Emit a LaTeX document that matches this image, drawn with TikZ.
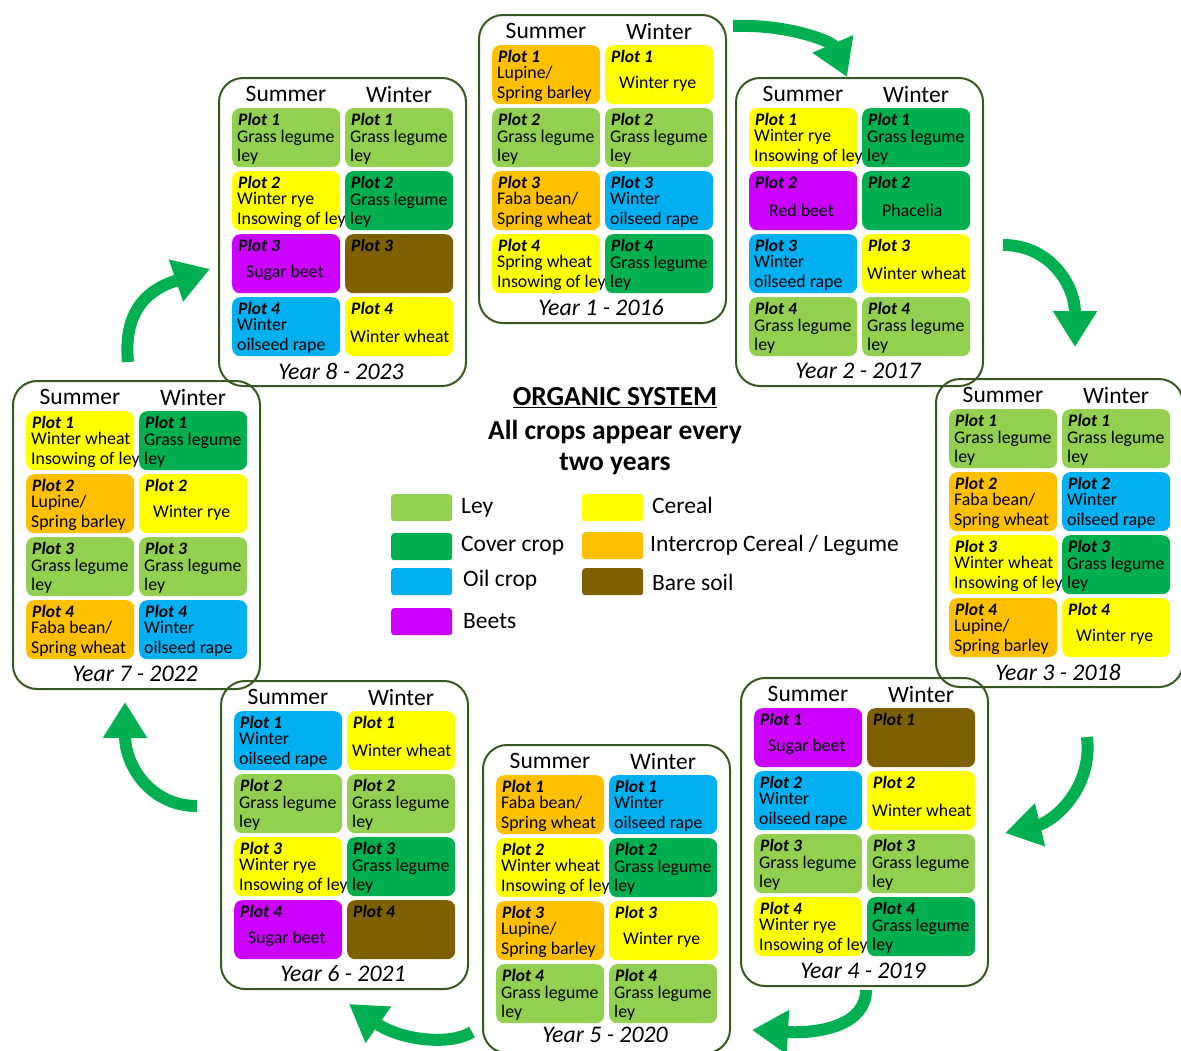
\documentclass[tikz,border=0pt]{standalone}
\usepackage{fontspec}
\setmainfont{Carlito}
\usetikzlibrary{arrows.meta}
\definecolor{cley}{HTML}{92D050}
\definecolor{ccover}{HTML}{00B050}
\definecolor{coil}{HTML}{00B0F0}
\definecolor{cbeet}{HTML}{CC00FF}
\definecolor{ccereal}{HTML}{FFFF00}
\definecolor{cinter}{HTML}{FFC000}
\definecolor{cbare}{HTML}{7F6000}
\definecolor{cframe}{HTML}{385723}
\definecolor{carrow}{HTML}{00B050}
\tikzset{
 panelbox/.style={draw=cframe, line width=2pt, rounded corners=24pt, anchor=north west, minimum width=247pt, minimum height=308pt, inner sep=0pt},
 cellbox/.style={rounded corners=8pt, inner sep=0pt, minimum width=108pt, minimum height=59pt, anchor=north west},
 plotlbl/.style={font=\fontsize{17.5}{19}\selectfont\bfseries\itshape, anchor=west, inner sep=0pt},
 bodytxt/.style={font=\fontsize{17.8}{19.5}\selectfont, align=left, anchor=west, inner sep=0pt},
 hdr/.style={font=\fontsize{23.5}{26}\selectfont, inner sep=0pt},
 yearlbl/.style={font=\fontsize{23.8}{26}\selectfont\itshape, inner sep=0pt},
 swatch/.style={rounded corners=3pt, minimum width=61pt, minimum height=27pt, anchor=north west, inner sep=0pt},
 legtxt/.style={font=\fontsize{23.5}{26}\selectfont, anchor=west, inner sep=0pt},
 titletxt/.style={font=\fontsize{27.5}{31}\selectfont\bfseries, inner sep=0pt},
 bigarrow/.style={draw=carrow, line width=12pt, -{Triangle[length=36pt,width=42pt]}},
}
\def\LY{294}
\newcommand\mkpanel[2]{%
 \node[panelbox] (#1) at (\PX,\PY) {};
 \node[hdr] (#1hs) at (\PX+68,\PY+17) {Summer};
 \node[hdr] (#1hw) at (\PX+181,\PY+17) {Winter};
 \node[yearlbl] (#1yr) at (\PX+123,\PY+\LY) {#2};
}
\newcommand\mkcell[6]{%
 \node[cellbox, fill=#4] (#1) at (\PX+#2,\PY+#3) {};
 \node[plotlbl] (#1l) at (\PX+#2+6,\PY+#3+11) {#5};
 \node[bodytxt] (#1t) at (\PX+#2+5,\PY+#3+39) {#6};
}
\newcommand\mkcellone[6]{%
 \node[cellbox, fill=#4] (#1) at (\PX+#2,\PY+#3) {};
 \node[plotlbl] (#1l) at (\PX+#2+6,\PY+#3+11) {#5};
 \node[bodytxt] (#1t) at (\PX+#2+14,\PY+#3+39) {#6};
}
\def\GL{Grass legume\\ley}
\def\WOR{Winter\\oilseed rape}
\def\SX{14}\def\WX{127}
\def\RA{31}\def\RB{94}\def\RC{157}\def\RD{220}
\begin{document}
\begin{tikzpicture}[x=1pt,y=-1pt]
\useasboundingbox (0,0) rectangle (1181,1050);
% ---------- Year 1
\def\PX{478}\def\PY{14}
\mkpanel{p1}{Year 1 - 2016}
\mkcell{p1s1}{\SX}{\RA}{cinter}{Plot 1}{Lupine/\\Spring barley}
\mkcellone{p1w1}{\WX}{\RA}{ccereal}{Plot 1}{Winter rye}
\mkcell{p1s2}{\SX}{\RB}{cley}{Plot 2}{\GL}
\mkcell{p1w2}{\WX}{\RB}{cley}{Plot 2}{\GL}
\mkcell{p1s3}{\SX}{\RC}{cinter}{Plot 3}{Faba bean/\\Spring wheat}
\mkcell{p1w3}{\WX}{\RC}{coil}{Plot 3}{\WOR}
\mkcell{p1s4}{\SX}{\RD}{ccereal}{Plot 4}{Spring wheat\\Insowing of ley}
\mkcell{p1w4}{\WX}{\RD}{ccover}{Plot 4}{\GL}
% ---------- Year 2
\def\PX{735}\def\PY{77}
\mkpanel{p2}{Year 2 - 2017}
\mkcell{p2s1}{\SX}{\RA}{ccereal}{Plot 1}{Winter rye\\Insowing of ley}
\mkcell{p2w1}{\WX}{\RA}{ccover}{Plot 1}{\GL}
\mkcellone{p2s2}{\SX}{\RB}{cbeet}{Plot 2}{\hspace{6pt}Red beet}
\mkcellone{p2w2}{\WX}{\RB}{ccover}{Plot 2}{\hspace{6pt}Phacelia}
\mkcell{p2s3}{\SX}{\RC}{coil}{Plot 3}{\WOR}
\mkcell{p2w3}{\WX}{\RC}{ccereal}{Plot 3}{Winter wheat}
\mkcell{p2s4}{\SX}{\RD}{cley}{Plot 4}{\GL}
\mkcell{p2w4}{\WX}{\RD}{cley}{Plot 4}{\GL}
% ---------- Year 3
\def\PX{935}\def\PY{378}
\mkpanel{p3}{Year 3 - 2018}
\mkcell{p3s1}{\SX}{\RA}{cley}{Plot 1}{\GL}
\mkcell{p3w1}{\WX}{\RA}{cley}{Plot 1}{\GL}
\mkcell{p3s2}{\SX}{\RB}{cinter}{Plot 2}{Faba bean/\\Spring wheat}
\mkcell{p3w2}{\WX}{\RB}{coil}{Plot 2}{\WOR}
\mkcell{p3s3}{\SX}{\RC}{ccereal}{Plot 3}{Winter wheat\\Insowing of ley}
\mkcell{p3w3}{\WX}{\RC}{ccover}{Plot 3}{\GL}
\mkcell{p3s4}{\SX}{\RD}{cinter}{Plot 4}{Lupine/\\Spring barley}
\mkcellone{p3w4}{\WX}{\RD}{ccereal}{Plot 4}{Winter rye}
% ---------- Year 4
\def\PX{740}\def\PY{677}
\mkpanel{p4}{Year 4 - 2019}
\mkcellone{p4s1}{\SX}{\RA}{cbeet}{Plot 1}{Sugar beet}
\mkcell{p4w1}{\WX}{\RA}{cbare}{Plot 1}{}
\mkcell{p4s2}{\SX}{\RB}{coil}{Plot 2}{\WOR}
\mkcell{p4w2}{\WX}{\RB}{ccereal}{Plot 2}{Winter wheat}
\mkcell{p4s3}{\SX}{\RC}{cley}{Plot 3}{\GL}
\mkcell{p4w3}{\WX}{\RC}{cley}{Plot 3}{\GL}
\mkcell{p4s4}{\SX}{\RD}{ccereal}{Plot 4}{Winter rye\\Insowing of ley}
\mkcell{p4w4}{\WX}{\RD}{ccover}{Plot 4}{\GL}
% ---------- Year 5
\def\PX{482}\def\PY{744}
\def\LY{291}
\mkpanel{p5}{Year 5 - 2020}
\def\LY{294}
\mkcell{p5s1}{\SX}{\RA}{cinter}{Plot 1}{Faba bean/\\Spring wheat}
\mkcell{p5w1}{\WX}{\RA}{coil}{Plot 1}{\WOR}
\mkcell{p5s2}{\SX}{\RB}{ccereal}{Plot 2}{Winter wheat\\Insowing of ley}
\mkcell{p5w2}{\WX}{\RB}{ccover}{Plot 2}{\GL}
\mkcell{p5s3}{\SX}{\RC}{cinter}{Plot 3}{Lupine/\\Spring barley}
\mkcellone{p5w3}{\WX}{\RC}{ccereal}{Plot 3}{Winter rye}
\mkcell{p5s4}{\SX}{\RD}{cley}{Plot 4}{\GL}
\mkcell{p5w4}{\WX}{\RD}{cley}{Plot 4}{\GL}
% ---------- Year 6
\def\PX{220}\def\PY{680}
\mkpanel{p6}{Year 6 - 2021}
\mkcell{p6s1}{\SX}{\RA}{coil}{Plot 1}{\WOR}
\mkcell{p6w1}{\WX}{\RA}{ccereal}{Plot 1}{Winter wheat}
\mkcell{p6s2}{\SX}{\RB}{cley}{Plot 2}{\GL}
\mkcell{p6w2}{\WX}{\RB}{cley}{Plot 2}{\GL}
\mkcell{p6s3}{\SX}{\RC}{ccereal}{Plot 3}{Winter rye\\Insowing of ley}
\mkcell{p6w3}{\WX}{\RC}{ccover}{Plot 3}{\GL}
\mkcellone{p6s4}{\SX}{\RD}{cbeet}{Plot 4}{Sugar beet}
\mkcell{p6w4}{\WX}{\RD}{cbare}{Plot 4}{}
% ---------- Year 7
\def\PX{12}\def\PY{380}
\mkpanel{p7}{Year 7 - 2022}
\mkcell{p7s1}{\SX}{\RA}{ccereal}{Plot 1}{Winter wheat\\Insowing of ley}
\mkcell{p7w1}{\WX}{\RA}{ccover}{Plot 1}{\GL}
\mkcell{p7s2}{\SX}{\RB}{cinter}{Plot 2}{Lupine/\\Spring barley}
\mkcellone{p7w2}{\WX}{\RB}{ccereal}{Plot 2}{Winter rye}
\mkcell{p7s3}{\SX}{\RC}{cley}{Plot 3}{\GL}
\mkcell{p7w3}{\WX}{\RC}{cley}{Plot 3}{\GL}
\mkcell{p7s4}{\SX}{\RD}{cinter}{Plot 4}{Faba bean/\\Spring wheat}
\mkcell{p7w4}{\WX}{\RD}{coil}{Plot 4}{\WOR}
% ---------- Year 8
\def\PX{218}\def\PY{77}
\mkpanel{p8}{Year 8 - 2023}
\mkcell{p8s1}{\SX}{\RA}{cley}{Plot 1}{\GL}
\mkcell{p8w1}{\WX}{\RA}{cley}{Plot 1}{\GL}
\mkcell{p8s2}{\SX}{\RB}{ccereal}{Plot 2}{Winter rye\\Insowing of ley}
\mkcell{p8w2}{\WX}{\RB}{ccover}{Plot 2}{\GL}
\mkcellone{p8s3}{\SX}{\RC}{cbeet}{Plot 3}{Sugar beet}
\mkcell{p8w3}{\WX}{\RC}{cbare}{Plot 3}{}
\mkcell{p8s4}{\SX}{\RD}{coil}{Plot 4}{\WOR}
\mkcell{p8w4}{\WX}{\RD}{ccereal}{Plot 4}{Winter wheat}
% ---------- Title and legend
\node[titletxt] (title) at (615,398) {\underline{ORGANIC SYSTEM}};
\node[titletxt, align=center] (subtitle) at (615,448) {All crops appear every\\two years};
\node[swatch, fill=cley] (lg1) at (391,494) {};
\node[legtxt] (lg1t) at (461,508) {Ley};
\node[swatch, fill=ccover] (lg2) at (391,533) {};
\node[legtxt] (lg2t) at (461,546) {Cover crop};
\node[swatch, fill=coil] (lg3) at (391,568) {};
\node[legtxt] (lg3t) at (463,580) {Oil crop};
\node[swatch, fill=cbeet] (lg4) at (391,608) {};
\node[legtxt] (lg4t) at (463,621) {Beets};
\node[swatch, fill=ccereal] (lg5) at (582,494) {};
\node[legtxt] (lg5t) at (652,505) {Cereal};
\node[swatch, fill=cinter] (lg6) at (582,532) {};
\node[legtxt] (lg6t) at (650,545) {Intercrop Cereal / Legume};
\node[swatch, fill=cbare] (lg7) at (582,568) {};
\node[legtxt] (lg7t) at (652,582) {Bare soil};
% ---------- Arrows
\coordinate (a1s) at (733,26);   \coordinate (a1e) at (847,77);
\coordinate (a2s) at (1003,245); \coordinate (a2e) at (1075,347);
\coordinate (a3s) at (1087,737); \coordinate (a3e) at (1005,833);
\coordinate (a4s) at (866,990);  \coordinate (a4e) at (752,1030);
\coordinate (a5s) at (472,1032); \coordinate (a5e) at (349,1004);
\coordinate (a6s) at (197,806);  \coordinate (a6e) at (125,702);
\coordinate (a7s) at (128,362);  \coordinate (a7e) at (210,269);
\draw[bigarrow] (a1s) .. controls (790,24) and (832,42) .. (a1e);
\draw[bigarrow] (a2s) .. controls (1050,245) and (1075,285) .. (a2e);
\draw[bigarrow] (a3s) .. controls (1093,790) and (1052,822) .. (a3e);
\draw[bigarrow] (a4s) .. controls (866,1025) and (820,1034) .. (a4e);
\draw[bigarrow] (a5s) .. controls (450,1046) and (400,1040) .. (a5e);
\draw[bigarrow] (a6s) .. controls (150,806) and (125,765) .. (a6e);
\draw[bigarrow] (a7s) .. controls (122,300) and (160,286) .. (a7e);
\end{tikzpicture}
\end{document}
